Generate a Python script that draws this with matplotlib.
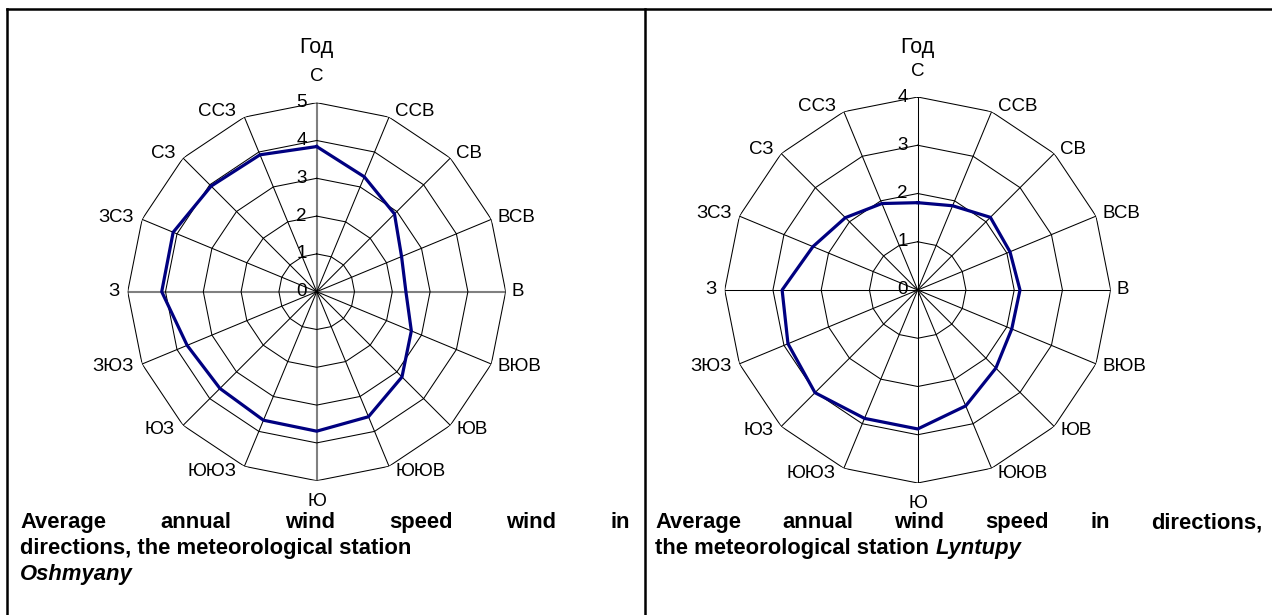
import numpy as np
import matplotlib
matplotlib.use('Agg')
import matplotlib.pyplot as plt
from matplotlib.lines import Line2D

plt.rcParams['font.family'] = ['Liberation Sans', 'DejaVu Sans']

# 16 wind directions, clockwise from north
directions = ['С', 'ССВ', 'СВ', 'ВСВ', 'В', 'ВЮВ', 'ЮВ', 'ЮЮВ',
              'Ю', 'ЮЮЗ', 'ЮЗ', 'ЗЮЗ', 'З', 'ЗСЗ', 'СЗ', 'ССЗ']

# average annual wind speed, m/s
oshmyany = [3.84, 3.29, 2.91, 2.43, 2.36, 2.71, 3.19, 3.58,
            3.69, 3.68, 3.62, 3.71, 4.10, 4.11, 3.95, 3.92]
lyntupy = [1.81, 1.89, 2.13, 2.07, 2.12, 2.11, 2.29, 2.60,
           2.88, 2.88, 3.01, 2.91, 2.81, 2.35, 2.12, 1.94]

title = 'Год'
caption_left = ['Average annual wind speed wind in',
                'directions, the meteorological station',
                'Oshmyany']
caption_right = ['Average annual wind speed in directions,',
                 'the meteorological station ',
                 'Lyntupy']

W, H = 1272, 615
fig = plt.figure(figsize=(W / 100, H / 100), dpi=100)
renderer = fig.canvas.get_renderer()

FS = 13.5


def radar(cx, cy, rad, values, rmax, gray_axes):
    ax = fig.add_axes([(cx - rad) / W, (H - cy - rad) / H, 2 * rad / W, 2 * rad / H],
                      projection='polar')
    ax.set_theta_zero_location('N')
    ax.set_theta_direction(-1)
    ax.set_ylim(0, rmax)
    ax.grid(False)
    ax.spines['polar'].set_visible(False)
    ax.set_xticks([])
    ax.set_yticks([])
    ax.patch.set_visible(False)

    theta = np.deg2rad(np.arange(len(directions)) * 22.5)
    closed = np.append(theta, theta[0])

    # polygon rings
    for k in range(1, rmax + 1):
        ax.plot(closed, [k] * len(closed), color='black', lw=0.75)
    # spokes
    for i, a in enumerate(theta):
        if gray_axes and i % 4 == 0:
            ax.plot([a, a], [0, rmax], color='#808080', lw=1.5, zorder=1)
        else:
            ax.plot([a, a], [0, rmax], color='black', lw=0.75)

    ax.plot(closed, np.append(values, values[0]), color='#000080', lw=2.3, zorder=5)

    # radial tick labels along the north axis
    for k in range(0, rmax + 1):
        ax.annotate(str(k), xy=(0, k), xytext=(-10, 0), textcoords='offset pixels',
                    ha='right', va='center', fontsize=FS, zorder=6)

    # direction labels
    for a, lab in zip(theta, directions):
        s, c = np.sin(a), np.cos(a)
        if abs(s) < 0.01:
            ha = 'center'
            dx = 0
            dy = 26 if c > 0 else -21
        else:
            ha = 'left' if s > 0 else 'right'
            dx = 6 if s > 0 else -8
            dy = 6 * c
        ax.annotate(lab, xy=(a, rmax), xytext=(dx, dy), textcoords='offset pixels',
                    ha=ha, va='center', fontsize=FS, annotation_clip=False)

    fig.text(cx / W, 1 - 48 / H, title, ha='center', va='center', fontsize=15.5)
    return ax


radar(316.7, 291.7, 189, oshmyany, 5, True)
radar(917.7, 290, 193, lyntupy, 4, False)

CAP = dict(fontsize=15.8, fontweight='bold', va='baseline')


def justified(words, x0, x1, y):
    texts = [fig.text(0, 1 - y / H, w, **CAP) for w in words]
    widths = [t.get_window_extent(renderer).width for t in texts]
    gap = (x1 - x0 - sum(widths)) / (len(words) - 1)
    x = x0
    for t, w in zip(texts, widths):
        t.set_x(x / W)
        x += w + gap


def caption(lines, x0, x1):
    justified(lines[0].split(), x0, x1, 528)
    t = fig.text(x0 / W, 1 - 554 / H, lines[1], **CAP)
    if lines is caption_left:
        fig.text(x0 / W, 1 - 580 / H, lines[2], style='italic', **CAP)
    else:
        w = t.get_window_extent(renderer).width
        fig.text((x0 + w) / W, 1 - 554 / H, lines[2], style='italic', **CAP)


caption(caption_left, 20, 630)
caption(caption_right, 655, 1262)

# table borders
lw = 1.8
fig.add_artist(Line2D([7 / W, 1], [1 - 9 / H, 1 - 9 / H], color='black', lw=lw))
fig.add_artist(Line2D([7 / W, 7 / W], [0, 1 - 9 / H], color='black', lw=lw))
fig.add_artist(Line2D([645 / W, 645 / W], [0, 1 - 9 / H], color='black', lw=lw))

plt.savefig('out.png', dpi=100, facecolor='white')
